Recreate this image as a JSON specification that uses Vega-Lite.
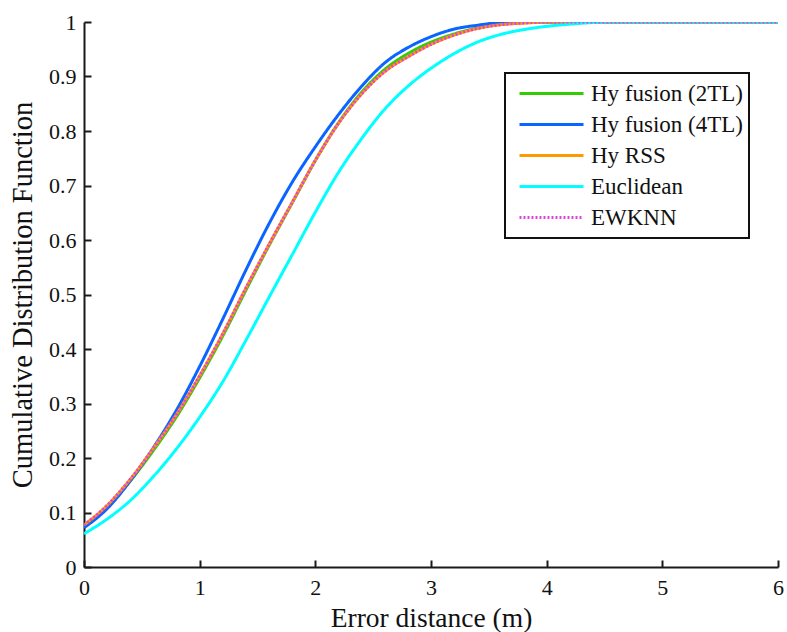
{
  "$schema": "https://vega.github.io/schema/vega-lite/v6.json",
  "autosize": {"type": "none"},
  "padding": {"left": 84, "top": 22, "right": 9, "bottom": 65},
  "width": 694,
  "height": 545,
  "background": "white",
  "config": {
    "view": {"stroke": null},
    "font": "Liberation Serif",
    "axis": {
      "grid": false,
      "domainColor": "#1a1a1a",
      "domainWidth": 2,
      "tickColor": "#1a1a1a",
      "tickWidth": 2,
      "tickSize": -7,
      "labelFont": "Liberation Serif",
      "labelFontSize": 22,
      "labelColor": "#111",
      "titleFont": "Liberation Serif",
      "titleFontSize": 27.5,
      "titleFontWeight": "normal",
      "titleColor": "#111",
      "labelFlush": false,
      "labelOverlap": false
    },
    "legend": {
      "strokeWidth": 2
    }
  },
  "data": {
    "values": [
      {"method": "Hy fusion (2TL)", "x": 0, "y": 0.076},
      {"method": "Hy fusion (2TL)", "x": 0.2, "y": 0.111},
      {"method": "Hy fusion (2TL)", "x": 0.4, "y": 0.158},
      {"method": "Hy fusion (2TL)", "x": 0.6, "y": 0.214},
      {"method": "Hy fusion (2TL)", "x": 0.8, "y": 0.276},
      {"method": "Hy fusion (2TL)", "x": 1.0, "y": 0.347},
      {"method": "Hy fusion (2TL)", "x": 1.2, "y": 0.424},
      {"method": "Hy fusion (2TL)", "x": 1.4, "y": 0.508},
      {"method": "Hy fusion (2TL)", "x": 1.6, "y": 0.590},
      {"method": "Hy fusion (2TL)", "x": 1.8, "y": 0.668},
      {"method": "Hy fusion (2TL)", "x": 2.0, "y": 0.746},
      {"method": "Hy fusion (2TL)", "x": 2.2, "y": 0.815},
      {"method": "Hy fusion (2TL)", "x": 2.4, "y": 0.871},
      {"method": "Hy fusion (2TL)", "x": 2.6, "y": 0.913},
      {"method": "Hy fusion (2TL)", "x": 2.8, "y": 0.942},
      {"method": "Hy fusion (2TL)", "x": 3.0, "y": 0.963},
      {"method": "Hy fusion (2TL)", "x": 3.2, "y": 0.978},
      {"method": "Hy fusion (2TL)", "x": 3.4, "y": 0.989},
      {"method": "Hy fusion (2TL)", "x": 3.6, "y": 0.996},
      {"method": "Hy fusion (2TL)", "x": 3.8, "y": 0.999},
      {"method": "Hy fusion (2TL)", "x": 4.0, "y": 1.0},
      {"method": "Hy fusion (2TL)", "x": 6.0, "y": 1.0},

      {"method": "Hy fusion (4TL)", "x": 0, "y": 0.072},
      {"method": "Hy fusion (4TL)", "x": 0.2, "y": 0.107},
      {"method": "Hy fusion (4TL)", "x": 0.4, "y": 0.158},
      {"method": "Hy fusion (4TL)", "x": 0.6, "y": 0.219},
      {"method": "Hy fusion (4TL)", "x": 0.8, "y": 0.288},
      {"method": "Hy fusion (4TL)", "x": 1.0, "y": 0.368},
      {"method": "Hy fusion (4TL)", "x": 1.2, "y": 0.455},
      {"method": "Hy fusion (4TL)", "x": 1.4, "y": 0.545},
      {"method": "Hy fusion (4TL)", "x": 1.6, "y": 0.630},
      {"method": "Hy fusion (4TL)", "x": 1.8, "y": 0.706},
      {"method": "Hy fusion (4TL)", "x": 2.0, "y": 0.771},
      {"method": "Hy fusion (4TL)", "x": 2.2, "y": 0.830},
      {"method": "Hy fusion (4TL)", "x": 2.4, "y": 0.882},
      {"method": "Hy fusion (4TL)", "x": 2.6, "y": 0.925},
      {"method": "Hy fusion (4TL)", "x": 2.8, "y": 0.953},
      {"method": "Hy fusion (4TL)", "x": 3.0, "y": 0.973},
      {"method": "Hy fusion (4TL)", "x": 3.2, "y": 0.987},
      {"method": "Hy fusion (4TL)", "x": 3.4, "y": 0.994},
      {"method": "Hy fusion (4TL)", "x": 3.6, "y": 0.999},
      {"method": "Hy fusion (4TL)", "x": 3.8, "y": 1.0},
      {"method": "Hy fusion (4TL)", "x": 6.0, "y": 1.0},

      {"method": "Hy RSS", "x": 0, "y": 0.077},
      {"method": "Hy RSS", "x": 0.2, "y": 0.113},
      {"method": "Hy RSS", "x": 0.4, "y": 0.161},
      {"method": "Hy RSS", "x": 0.6, "y": 0.218},
      {"method": "Hy RSS", "x": 0.8, "y": 0.280},
      {"method": "Hy RSS", "x": 1.0, "y": 0.351},
      {"method": "Hy RSS", "x": 1.2, "y": 0.428},
      {"method": "Hy RSS", "x": 1.4, "y": 0.512},
      {"method": "Hy RSS", "x": 1.6, "y": 0.592},
      {"method": "Hy RSS", "x": 1.8, "y": 0.669},
      {"method": "Hy RSS", "x": 2.0, "y": 0.746},
      {"method": "Hy RSS", "x": 2.2, "y": 0.814},
      {"method": "Hy RSS", "x": 2.4, "y": 0.868},
      {"method": "Hy RSS", "x": 2.6, "y": 0.909},
      {"method": "Hy RSS", "x": 2.8, "y": 0.936},
      {"method": "Hy RSS", "x": 3.0, "y": 0.959},
      {"method": "Hy RSS", "x": 3.2, "y": 0.976},
      {"method": "Hy RSS", "x": 3.4, "y": 0.988},
      {"method": "Hy RSS", "x": 3.6, "y": 0.995},
      {"method": "Hy RSS", "x": 3.8, "y": 0.998},
      {"method": "Hy RSS", "x": 4.0, "y": 1.0},
      {"method": "Hy RSS", "x": 6.0, "y": 1.0},

      {"method": "Euclidean", "x": 0, "y": 0.061},
      {"method": "Euclidean", "x": 0.2, "y": 0.088},
      {"method": "Euclidean", "x": 0.4, "y": 0.122},
      {"method": "Euclidean", "x": 0.6, "y": 0.166},
      {"method": "Euclidean", "x": 0.8, "y": 0.217},
      {"method": "Euclidean", "x": 1.0, "y": 0.275},
      {"method": "Euclidean", "x": 1.2, "y": 0.340},
      {"method": "Euclidean", "x": 1.4, "y": 0.416},
      {"method": "Euclidean", "x": 1.6, "y": 0.495},
      {"method": "Euclidean", "x": 1.8, "y": 0.573},
      {"method": "Euclidean", "x": 2.0, "y": 0.651},
      {"method": "Euclidean", "x": 2.2, "y": 0.724},
      {"method": "Euclidean", "x": 2.4, "y": 0.786},
      {"method": "Euclidean", "x": 2.6, "y": 0.840},
      {"method": "Euclidean", "x": 2.8, "y": 0.882},
      {"method": "Euclidean", "x": 3.0, "y": 0.915},
      {"method": "Euclidean", "x": 3.2, "y": 0.942},
      {"method": "Euclidean", "x": 3.4, "y": 0.963},
      {"method": "Euclidean", "x": 3.6, "y": 0.977},
      {"method": "Euclidean", "x": 3.8, "y": 0.986},
      {"method": "Euclidean", "x": 4.0, "y": 0.992},
      {"method": "Euclidean", "x": 4.2, "y": 0.996},
      {"method": "Euclidean", "x": 4.4, "y": 0.999},
      {"method": "Euclidean", "x": 4.6, "y": 1.0},
      {"method": "Euclidean", "x": 6.0, "y": 1.0},

      {"method": "EWKNN", "x": 0, "y": 0.077},
      {"method": "EWKNN", "x": 0.2, "y": 0.113},
      {"method": "EWKNN", "x": 0.4, "y": 0.161},
      {"method": "EWKNN", "x": 0.6, "y": 0.218},
      {"method": "EWKNN", "x": 0.8, "y": 0.280},
      {"method": "EWKNN", "x": 1.0, "y": 0.351},
      {"method": "EWKNN", "x": 1.2, "y": 0.428},
      {"method": "EWKNN", "x": 1.4, "y": 0.512},
      {"method": "EWKNN", "x": 1.6, "y": 0.592},
      {"method": "EWKNN", "x": 1.8, "y": 0.669},
      {"method": "EWKNN", "x": 2.0, "y": 0.746},
      {"method": "EWKNN", "x": 2.2, "y": 0.814},
      {"method": "EWKNN", "x": 2.4, "y": 0.868},
      {"method": "EWKNN", "x": 2.6, "y": 0.909},
      {"method": "EWKNN", "x": 2.8, "y": 0.936},
      {"method": "EWKNN", "x": 3.0, "y": 0.959},
      {"method": "EWKNN", "x": 3.2, "y": 0.976},
      {"method": "EWKNN", "x": 3.4, "y": 0.988},
      {"method": "EWKNN", "x": 3.6, "y": 0.995},
      {"method": "EWKNN", "x": 3.8, "y": 0.998},
      {"method": "EWKNN", "x": 4.0, "y": 1.0},
      {"method": "EWKNN", "x": 6.0, "y": 1.0}
    ]
  },
  "mark": {"type": "line", "strokeWidth": 3, "clip": true, "interpolate": "monotone"},
  "encoding": {
    "x": {
      "field": "x",
      "type": "quantitative",
      "scale": {"domain": [0, 6], "nice": false, "zero": false},
      "axis": {
        "title": "Error distance (m)",
        "values": [0, 1, 2, 3, 4, 5, 6],
        "format": "d",
        "labelPadding": 17,
        "titlePadding": 6
      }
    },
    "y": {
      "field": "y",
      "type": "quantitative",
      "scale": {"domain": [0, 1], "nice": false, "zero": false},
      "axis": {
        "title": "Cumulative Distribution Function",
        "titleFontSize": 28.5,
        "values": [0, 0.1, 0.2, 0.3, 0.4, 0.5, 0.6, 0.7, 0.8, 0.9, 1],
        "format": "~g",
        "labelPadding": 15,
        "titlePadding": 11
      }
    },
    "color": {
      "field": "method",
      "type": "nominal",
      "sort": ["Hy fusion (2TL)", "Hy fusion (4TL)", "Hy RSS", "Euclidean", "EWKNN"],
      "scale": {
        "domain": ["Hy fusion (2TL)", "Hy fusion (4TL)", "Hy RSS", "Euclidean", "EWKNN"],
        "range": ["#33cc00", "#0a64ff", "#ff9900", "#00ffff", "#dd44dd"]
      },
      "legend": {
        "title": null,
        "orient": "none",
        "legendX": 421,
        "legendY": 51,
        "direction": "vertical",
        "symbolType": "stroke",
        "symbolSize": 4096,
        "symbolStrokeWidth": 3,
        "symbolOffset": 8,
        "clipHeight": 31,
        "rowPadding": 0,
        "labelFont": "Liberation Serif",
        "labelFontSize": 23,
        "labelColor": "#111",
        "labelOffset": 6,
        "labelLimit": 400,
        "padding": 5,
        "strokeColor": "#111",
        "fillColor": "white"
      }
    },
    "strokeDash": {
      "field": "method",
      "type": "nominal",
      "sort": ["Hy fusion (2TL)", "Hy fusion (4TL)", "Hy RSS", "Euclidean", "EWKNN"],
      "scale": {
        "domain": ["Hy fusion (2TL)", "Hy fusion (4TL)", "Hy RSS", "Euclidean", "EWKNN"],
        "range": [[1, 0], [1, 0], [1, 0], [1, 0], [2, 2]]
      },
      "legend": null
    }
  }
}
